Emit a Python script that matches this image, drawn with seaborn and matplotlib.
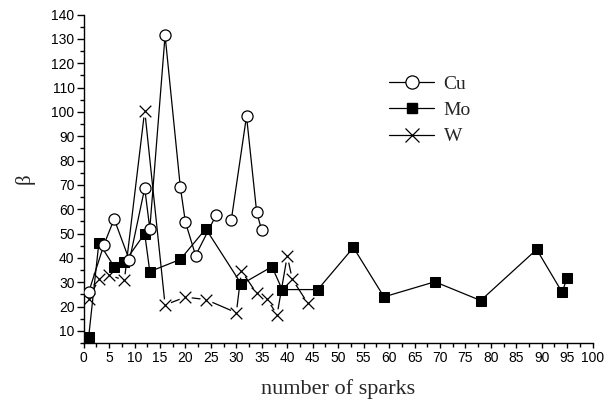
import matplotlib
matplotlib.use("Agg")
import matplotlib.pyplot as plt
from matplotlib.lines import Line2D
from matplotlib.ticker import MultipleLocator
import seaborn as sns
import pandas as pd
import numpy as np

# ---- data ----
cu_x = [1, 4, 6, 9, 12, 13, 16, 19, 20, 22, 26, 29, 32, 34, 35]
cu_y = [26, 45.5, 56, 39, 68.7, 52, 131.5, 69, 54.7, 41, 57.5, 55.5, 98.3, 58.7, 51.3]
cu_seg = [0, 0, 0, 0, 0, 0, 0, 0, 0, 0, 0, 1, 1, 1, 1]

mo_x = [1, 3, 6, 8, 12, 13, 19, 24, 31, 37, 39, 46, 53, 59, 69, 78, 89, 94, 95]
mo_y = [7.7, 46.3, 36.4, 38.2, 50, 34.4, 39.4, 52, 29.2, 36.4, 27, 27, 44.3, 24, 30.2, 22.5, 43.5, 25.9, 31.9]

w_x = [1, 3, 5, 8, 12, 16, 20, 24, 30, 31, 34, 36, 38, 40, 41, 44]
w_y = [23.3, 31.2, 33, 30.8, 100.6, 20.7, 23.9, 22.9, 17.5, 34.6, 25.5, 23.3, 16.6, 40.8, 31.2, 21.5]

labels = ["Cu", "Mo", "W"]
x_label = "number of sparks"
y_label = "β"

sns.set_style("ticks")
plt.rcParams["font.family"] = ["Liberation Sans", "DejaVu Sans"]

fig = plt.figure(figsize=(6.06, 4.07), dpi=100)
ax = fig.add_axes([0.138, 0.157, 0.840, 0.807])

cu_df = pd.DataFrame({"x": cu_x, "y": cu_y, "seg": cu_seg})
mo_df = pd.DataFrame({"x": mo_x, "y": mo_y})
w_df = pd.DataFrame({"x": w_x, "y": w_y})

lw = 0.9
# W: line with white pads under the crosses, then crosses
sns.lineplot(data=w_df, x="x", y="y", sort=False, estimator=None, ax=ax,
             color="black", lw=lw, marker="o", markersize=9,
             markerfacecolor="white", markeredgecolor="white", markeredgewidth=0, zorder=2)
sns.scatterplot(data=w_df, x="x", y="y", marker="x", s=70, color="black",
                linewidth=0.9, ax=ax, zorder=3)
# Mo
sns.lineplot(data=mo_df, x="x", y="y", sort=False, estimator=None, ax=ax,
             color="black", lw=lw, marker="s", markersize=7.5,
             markerfacecolor="black", markeredgecolor="black", zorder=4)
# Cu
sns.lineplot(data=cu_df, x="x", y="y", units="seg", sort=False, estimator=None, ax=ax,
             color="black", lw=lw, marker="o", markersize=8,
             markerfacecolor="white", markeredgecolor="black", markeredgewidth=0.9, zorder=5)

ax.set_xlim(0, 100)
ax.set_ylim(5, 140)
ax.xaxis.set_major_locator(MultipleLocator(5))
ax.xaxis.set_minor_locator(MultipleLocator(2.5))
ax.yaxis.set_major_locator(MultipleLocator(10))
ax.yaxis.set_minor_locator(MultipleLocator(5))
ax.set_yticks(np.arange(10, 141, 10))
for s in ["top", "right"]:
    ax.spines[s].set_visible(False)
for s in ["left", "bottom"]:
    ax.spines[s].set_linewidth(1.0)
    ax.spines[s].set_color("black")
ax.tick_params(which="major", direction="out", width=1.0, labelsize=10, colors="black")
ax.tick_params(axis="x", which="major", length=3.6, pad=2)
ax.tick_params(axis="y", which="major", length=5.0, pad=1.5)
ax.tick_params(which="minor", direction="out", length=2.6, width=1.0, colors="black")

ax.set_xlabel(x_label, fontsize=16, family="Liberation Serif", labelpad=10)
ax.set_ylabel(y_label, fontsize=15, family="Liberation Serif", labelpad=12)

handles = [
    Line2D([], [], color="black", lw=lw, marker="o", markersize=9.5,
           markerfacecolor="white", markeredgecolor="black", markeredgewidth=0.9),
    Line2D([], [], color="black", lw=lw, marker="s", markersize=7.5,
           markerfacecolor="black", markeredgecolor="black"),
    Line2D([], [], color="black", lw=lw, marker="x", markersize=10, markeredgewidth=0.9),
]
ax.legend(handles, labels, loc="upper left", bbox_to_anchor=(0.585, 0.84), frameon=False,
          prop={"family": "Liberation Serif", "size": 14}, handlelength=2.3,
          handletextpad=0.5, labelspacing=0.45, borderaxespad=0)

fig.savefig("out.png", dpi=100)
